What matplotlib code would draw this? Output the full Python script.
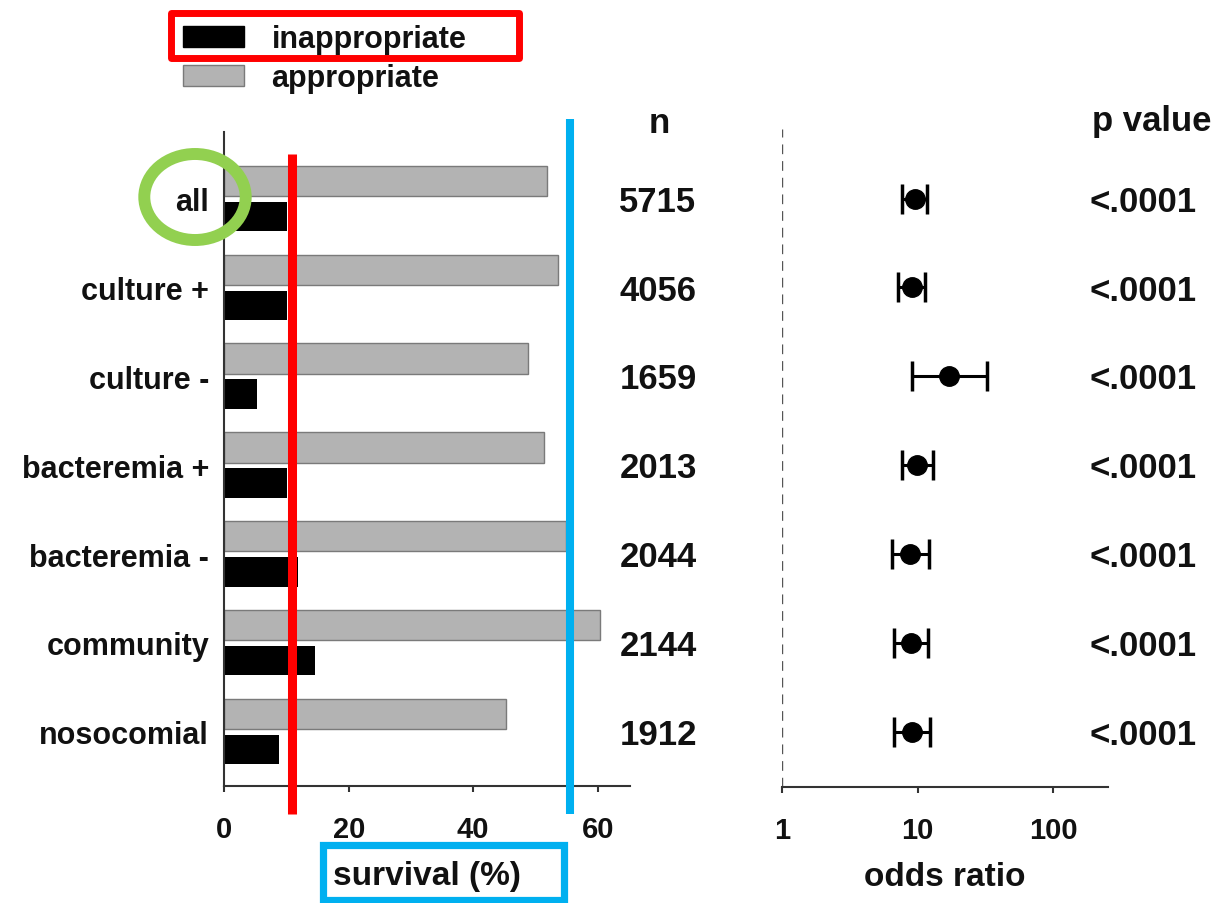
import matplotlib
matplotlib.use('Agg')
import matplotlib.pyplot as plt
from matplotlib.patches import Patch, Rectangle, Ellipse
from matplotlib.lines import Line2D
from matplotlib.transforms import blended_transform_factory
import numpy as np

# ---------------- data ----------------
categories = ['all', 'culture +', 'culture -', 'bacteremia +', 'bacteremia -',
              'community', 'nosocomial']
survival_appropriate = [51.9, 53.6, 48.8, 51.4, 54.9, 60.3, 45.2]
survival_inappropriate = [10.1, 10.1, 5.3, 10.1, 11.8, 14.6, 8.8]
n_values = [5715, 4056, 1659, 2013, 2044, 2144, 1912]
odds_ratio = [9.6, 9.05, 17.1, 9.86, 8.81, 8.91, 9.05]
or_low = [7.73, 7.22, 9.06, 7.65, 6.46, 6.71, 6.71]
or_high = [11.7, 11.35, 32.7, 12.9, 12.2, 12.0, 12.4]
p_values = ['<.0001'] * 7
surv_ticks = [0, 20, 40, 60]
or_ticks = [1, 10, 100]
or_ticklabels = ['1', '10', '100']

# ---------------- style ----------------
plt.rcParams['font.family'] = ['Liberation Sans', 'DejaVu Sans']
plt.rcParams['font.weight'] = 'bold'
plt.rcParams['axes.labelweight'] = 'bold'
TXT = '#111111'
SPINE = '#333333'

W, H = 1215, 904
fig = plt.figure(figsize=(W / 100, H / 100), dpi=100)


def fx(px):
    return px / W


def fy(py):
    return 1 - py / H


pitch = 88.9
y0 = 199.5
def ylim_for(top_px, bot_px):
    return ((bot_px - y0) / pitch, (top_px - y0) / pitch)

# ---------------- left panel: survival ----------------
axL = fig.add_axes([fx(224.3), fy(787), (630 - 224.3) / W, (787 - 133) / H])
axL.patch.set_visible(False)
ypos = np.arange(len(categories))
axL.barh(ypos - 0.2, survival_appropriate, height=0.34, color='#b3b3b3',
         edgecolor='#7a7a7a', linewidth=1.0, label='appropriate')
axL.barh(ypos + 0.2, survival_inappropriate, height=0.33, color='black',
         label='inappropriate')
axL.set_xlim(0, 65.2)
axL.set_ylim(*ylim_for(133, 787))
axL.set_yticks(ypos)
axL.set_yticklabels(categories, fontsize=22, color=TXT)
axL.set_xticks(surv_ticks)
axL.set_xticklabels([str(t) for t in surv_ticks], fontsize=21, color=TXT)
axL.tick_params(axis='y', length=0, pad=11)
axL.tick_params(axis='x', length=4, width=1.5, color=SPINE, pad=17, direction='out')
for s in ['top', 'right']:
    axL.spines[s].set_visible(False)
for s in ['left', 'bottom']:
    axL.spines[s].set_color(SPINE)
    axL.spines[s].set_linewidth(1.5)
axL.set_xlabel('survival (%)', fontsize=24, color=TXT, labelpad=12, fontweight='bold')

# ---------------- right panel: odds ratio ----------------
axR = fig.add_axes([fx(781.7), fy(788), (1108.3 - 781.7) / W, (788 - 130) / H])
axR.patch.set_visible(False)
axR.set_xscale('log')
axR.set_xlim(1, 254)
axR.set_ylim(*ylim_for(130, 788))
err = [np.array(odds_ratio) - np.array(or_low), np.array(or_high) - np.array(odds_ratio)]
axR.errorbar(odds_ratio, ypos, xerr=err, fmt='o', color='black', ms=14,
             elinewidth=2.2, capsize=11, capthick=2.5)
axR.axvline(1, color='#555555', lw=1.0, ls=(0, (7, 5)))
axR.set_xticks(or_ticks)
axR.set_xticklabels(or_ticklabels, fontsize=21, color=TXT)
axR.xaxis.set_minor_locator(matplotlib.ticker.NullLocator())
axR.set_yticks([])
axR.tick_params(axis='x', length=4, width=1.5, color=SPINE, pad=17, direction='out')
for s in ['top', 'right', 'left']:
    axR.spines[s].set_visible(False)
axR.spines['bottom'].set_color(SPINE)
axR.spines['bottom'].set_linewidth(1.5)
axR.set_xlabel('odds ratio', fontsize=24, color=TXT, labelpad=12, fontweight='bold')

# ---------------- n and p value columns ----------------
tr = blended_transform_factory(fig.transFigure, axL.transData)
for i, (nv, pv) in enumerate(zip(n_values, p_values)):
    axL.text(fx(658), i + 0.03, str(nv), transform=tr, ha='center', va='center',
             fontsize=25, color=TXT, clip_on=False)
    axL.text(fx(1197), i + 0.03, pv, transform=tr, ha='right', va='center',
             fontsize=25, color=TXT, clip_on=False)
fig.text(fx(659), fy(132.7), 'n', ha='center', va='baseline', fontsize=25, color=TXT)
fig.text(fx(1092), fy(131.5), 'p value', ha='left', va='baseline', fontsize=25, color=TXT)

# ---------------- legend ----------------
handles = [Patch(facecolor='black', edgecolor='black'),
           Patch(facecolor='#b3b3b3', edgecolor='#7a7a7a')]
fig.legend(handles, ['inappropriate', 'appropriate'], loc='upper left',
           bbox_to_anchor=(fx(183), fy(25)), frameon=False, fontsize=22,
           handlelength=2.0, handleheight=0.7, handletextpad=0.9,
           labelspacing=0.3, borderpad=0, borderaxespad=0, labelcolor=TXT)

# ---------------- annotation overlays ----------------
# red box around the "inappropriate" legend entry
fig.add_artist(Rectangle((fx(170.5), fy(58.5)), fx(518.5) - fx(170.5), fy(13.5) - fy(58.5),
                         transform=fig.transFigure, fill=False, edgecolor='#ff0000',
                         linewidth=5.0, joinstyle='round'))
# red vertical line
trx = blended_transform_factory(axL.transData, fig.transFigure)
fig.add_artist(Line2D([10.8, 10.8], [fy(155), fy(815)], transform=trx,
                      color='#ff0000', linewidth=6.5, solid_capstyle='butt'))
# blue vertical line
fig.add_artist(Line2D([55.5, 55.5], [fy(120), fy(815)], transform=trx,
                      color='#00b0f0', linewidth=5.8, solid_capstyle='butt'))
# blue box around x label
fig.add_artist(Rectangle((fx(322.5), fy(900.5)), fx(563.5) - fx(322.5), fy(845.5) - fy(900.5),
                         transform=fig.transFigure, fill=False, edgecolor='#00b0f0',
                         linewidth=5.2))
# green ellipse around "all"
fig.add_artist(Ellipse((fx(195), fy(198)), 101.4 / W, 86 / H, transform=fig.transFigure,
                       fill=False, edgecolor='#92d050', linewidth=8.6))

fig.savefig('out.png', dpi=100)
